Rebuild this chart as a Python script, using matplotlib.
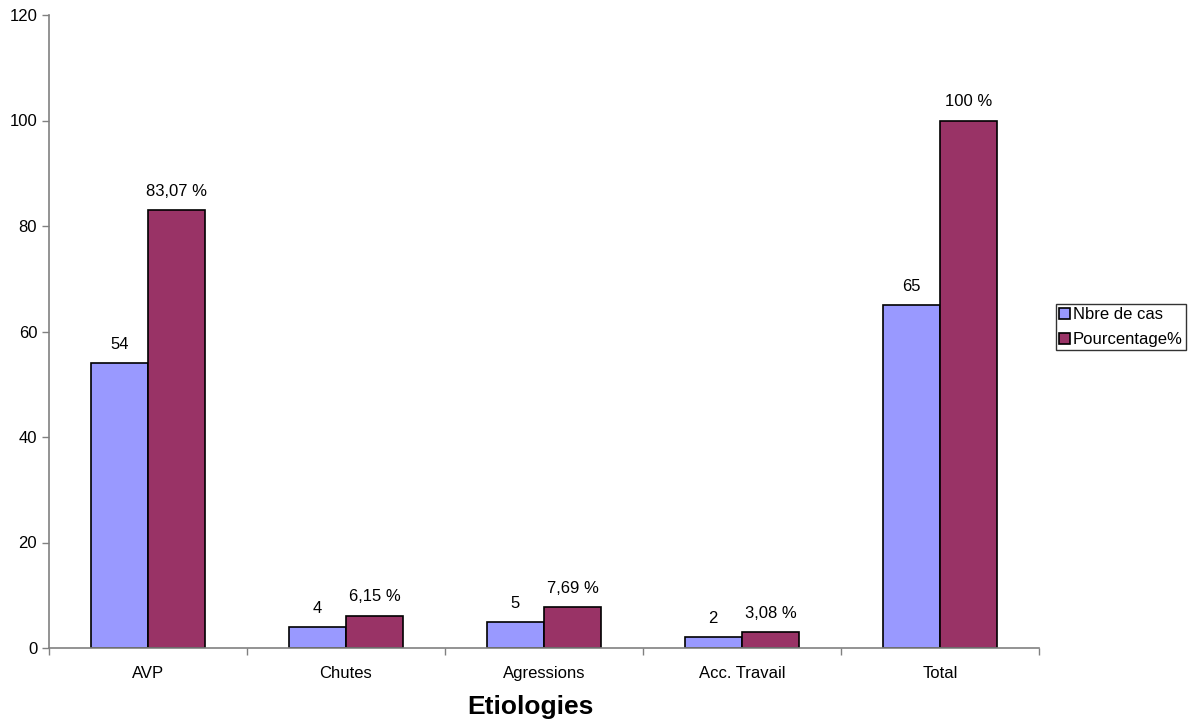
import numpy as np
import matplotlib
matplotlib.use('Agg')
import matplotlib.pyplot as plt

plt.rcParams['font.family'] = ['Liberation Sans', 'DejaVu Sans']

# Data per etiology
categories = ['AVP', 'Chutes', 'Agressions', 'Acc. Travail', 'Total']
nb_cas = [54, 4, 5, 2, 65]
pourcentage = [83.07, 6.15, 7.69, 3.08, 100]


def fmt_pct(v):
    if float(v).is_integer():
        return f'{int(v)} %'
    return f'{v:.2f}'.replace('.', ',') + ' %'


fig = plt.figure(figsize=(11.9, 7.22), dpi=100)
ax = fig.add_axes([49 / 1190, 74 / 722, 990 / 1190, 633 / 722])

x = np.arange(len(categories))
w = 0.29
b1 = ax.bar(x - w / 2, nb_cas, w, color='#9999FF', edgecolor='black', linewidth=1.2, label='Nbre de cas')
b2 = ax.bar(x + w / 2, pourcentage, w, color='#993366', edgecolor='black', linewidth=1.2, label='Pourcentage%')

for rect, v in zip(b1, nb_cas):
    ax.annotate(str(v), (rect.get_x() + rect.get_width() / 2, rect.get_height()),
                xytext=(0, 8), textcoords='offset points', ha='center', va='bottom', fontsize=12)
for rect, v in zip(b2, pourcentage):
    ax.annotate(fmt_pct(v), (rect.get_x() + rect.get_width() / 2, rect.get_height()),
                xytext=(0, 8), textcoords='offset points', ha='center', va='bottom', fontsize=12)

ax.set_xlim(-0.5, len(categories) - 0.5)
ax.set_ylim(0, 120)
ax.set_yticks(range(0, 121, 20))
ax.tick_params(axis='y', labelsize=12, length=5, color='#808080', width=1)

# category labels centred, tick marks on the boundaries
ax.set_xticks(x)
ax.set_xticklabels(categories, fontsize=12)
ax.tick_params(axis='x', length=0, pad=13)
ax.set_xticks(np.arange(-0.5, len(categories) + 0.5, 1), minor=True)
ax.tick_params(axis='x', which='minor', length=5, direction='out', color='#808080', width=1)

for s in ['top', 'right']:
    ax.spines[s].set_visible(False)
for s in ['left', 'bottom']:
    ax.spines[s].set_color('#808080')
    ax.spines[s].set_linewidth(1.2)

ax.set_xlabel('Etiologies', fontsize=19, fontweight='bold', labelpad=9)
ax.xaxis.set_label_coords(481 / 990, -0.075)

leg = ax.legend(loc='center left', bbox_to_anchor=(1007 / 990, 0.507), fontsize=12,
                frameon=True, fancybox=False, edgecolor='black', handlelength=0.65,
                handleheight=0.65, handletextpad=0.2, borderpad=0.35, labelspacing=0.6,
                borderaxespad=0)
leg.get_frame().set_linewidth(1)
# tighten horizontal padding of the legend box
leg._legend_box.pad = 2

fig.savefig('out.png', dpi=100)
